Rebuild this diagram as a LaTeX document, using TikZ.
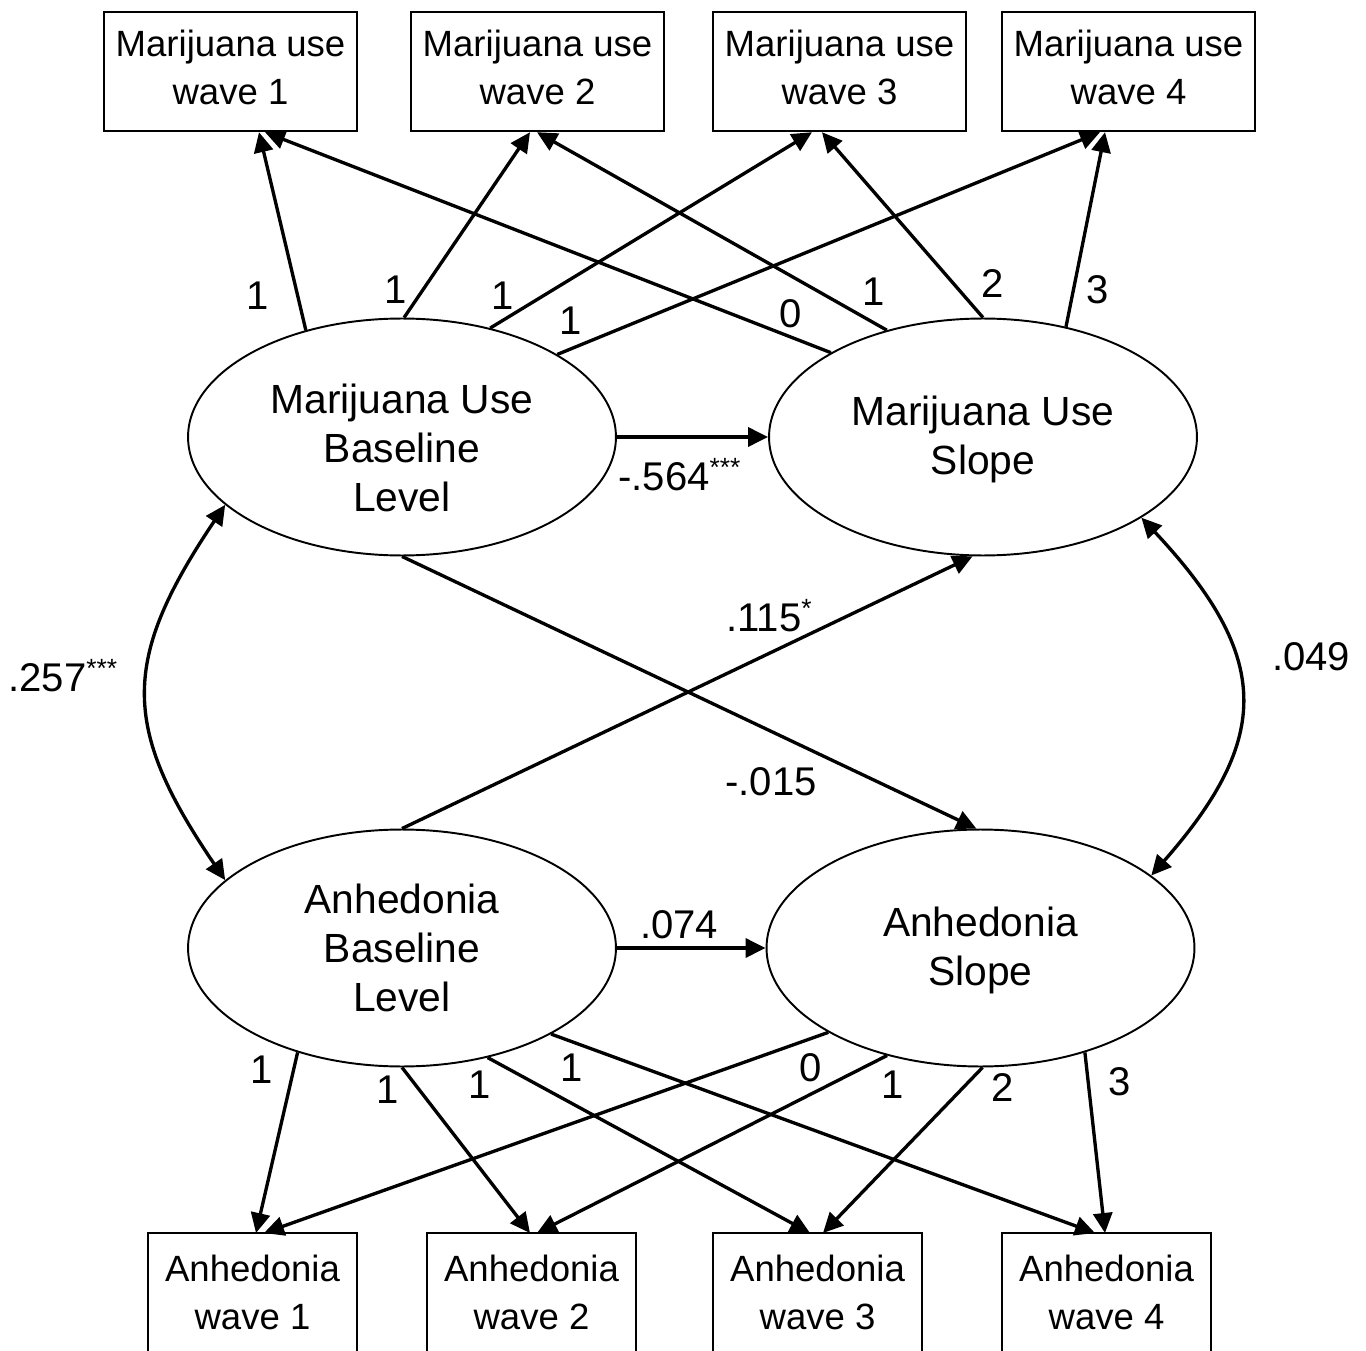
\documentclass[tikz,border=0pt]{standalone}
\usepackage{fontspec}
\setmainfont{Liberation Sans}
\usetikzlibrary{shapes.geometric,arrows.meta,calc}
\begin{document}
\begin{tikzpicture}[x=0.02cm,y=-0.02cm,
  obs/.style={draw, line width=1.4pt, minimum width=5.06cm, minimum height=2.38cm, align=center, inner sep=0pt, font=\fontsize{20.8}{27.3}\selectfont},
  obsb/.style={minimum width=4.18cm, minimum height=2.38cm, align=center, inner sep=0pt, outer sep=0pt, font=\fontsize{20.8}{27.3}\selectfont},
  boxline/.style={line width=1.4pt},
  lat/.style={ellipse, draw, line width=1.1pt, minimum width=8.56cm, minimum height=4.74cm, inner sep=0pt, align=center, font=\fontsize{23.2}{28}\selectfont},
  arr/.style={-{Triangle[length=0.4cm,width=0.38cm]}, line width=1.9pt},
  cov/.style={{Triangle[length=0.4cm,width=0.38cm]}-{Triangle[length=0.4cm,width=0.38cm]}, line width=1.9pt},
  lab/.style={font=\fontsize{22.8}{27.5}\selectfont, inner sep=0pt}]
\newcommand{\sigstar}[1]{\textsuperscript{\fontsize{15}{15}\selectfont #1}}
\useasboundingbox (0,0) rectangle (1366,1351);
\clip (0,0) rectangle (1366,1351);
% observed top
\node[obs] (w1) at (230.5,71.5) {Marijuana use\\wave 1\rule[-5pt]{0pt}{5pt}};
\node[obs] (w2) at (537.5,71.5) {Marijuana use\\wave 2\rule[-5pt]{0pt}{5pt}};
\node[obs] (w3) at (839.5,71.5) {Marijuana use\\wave 3\rule[-5pt]{0pt}{5pt}};
\node[obs] (w4) at (1128.5,71.5) {Marijuana use\\wave 4\rule[-5pt]{0pt}{5pt}};
% observed bottom (cut off by the lower edge)
\node[obsb] (a1) at (252.5,1292.5) {Anhedonia\\wave 1};
\node[obsb] (a2) at (531.5,1292.5) {Anhedonia\\wave 2};
\node[obsb] (a3) at (817.5,1292.5) {Anhedonia\\wave 3};
\node[obsb] (a4) at (1106.5,1292.5) {Anhedonia\\wave 4};
\foreach \b in {a1,a2,a3,a4}{
  \draw[boxline] ($(\b.south west)+(0,30)$) -- (\b.north west) -- (\b.north east) -- ($(\b.south east)+(0,30)$);
}
% latent
\node[lat] (mb) at (402,437) {\rule{0pt}{29pt}Marijuana Use\\Baseline\\Level};
\node[lat] (ms) at (983,437) {\rule{0pt}{20pt}Marijuana Use\\Slope};
\node[lat] (ab) at (402,948) {Anhedonia\\Baseline\\Level};
\node[lat] (as) at (980.5,948) {\rule{0pt}{20pt}Anhedonia\\Slope};
% loadings top
\draw[arr] (mb.132.8) -- ($(w1.south)+(28.5,0)$);
\draw[arr] (mb.89.5) -- ($(w2.south)+(-7.5,0)$);
\draw[arr] (mb.51.3) -- ($(w3.south)+(-27.5,0)$);
\draw[arr] (mb.28.9) -- ($(w4.south)+(-28.5,0)$);
\draw[arr] (ms.151.4) -- ($(w1.south)+(34.5,0)$);
\draw[arr] (ms.132.7) -- ($(w2.south)+(-0.5,0)$);
\draw[arr] (ms.90.5) -- ($(w3.south)+(-17.5,0)$);
\draw[arr] (ms.53.3) -- ($(w4.south)+(-23.5,0)$);
\node[lab] (t1) at (258,296) {1};
\node[lab] (t2) at (396,290) {1};
\node[lab] (t3) at (503,296) {1};
\node[lab] (t4) at (571,321) {1};
\node[lab] (t5) at (791,314) {0};
\node[lab] (t6) at (874,292) {1};
\node[lab] (t7) at (993,284) {2};
\node[lab] (t8) at (1098,290) {3};
% loadings bottom
\draw[arr] (ab.225.6) -- ($(a1.north)+(3.5,0)$);
\draw[arr] (ab.270) -- ($(a2.north)+(-1.5,0)$);
\draw[arr] (ab.308) -- ($(a3.north)+(-7.5,0)$);
\draw[arr] (ab.330) -- ($(a4.north)+(-11.5,0)$);
\draw[arr] (as.209.5) -- ($(a1.north)+(11.5,0)$);
\draw[arr] (as.229.8) -- ($(a2.north)+(5.5,0)$);
\draw[arr] (as.271) -- ($(a3.north)+(5.5,0)$);
\draw[arr] (as.315) -- ($(a4.north)+(-1.5,0)$);
\node[lab] (b1) at (262,1070) {1};
\node[lab] (b2) at (388,1090) {1};
\node[lab] (b3) at (480,1085) {1};
\node[lab] (b4) at (572,1068) {1};
\node[lab] (b5) at (811,1068) {0};
\node[lab] (b6) at (893,1085) {1};
\node[lab] (b7) at (1003,1088) {2};
\node[lab] (b8) at (1120,1082) {3};
% structural paths
\draw[arr] (mb.east) -- (ms.west);
\draw[arr] (ab.east) -- (as.west);
\draw[arr] (mb.270) -- (as.92);
\draw[arr] (ab.90) -- (ms.265);
\node[lab, anchor=base west] (r1) at (618,490) {-.564\sigstar{***}};
\node[lab] (r2) at (679,925) {.074};
\node[lab, anchor=base west] (r3) at (726,631) {.115\sigstar{*}};
\node[lab] (r4) at (771,782) {-.015};
% covariances
\draw[cov] (mb.201.6) .. controls (121,660) and (121,727) .. (ab.159);
\draw[cov] (ms.333) .. controls (1272,657) and (1272,738) .. (as.23.6);
\node[lab, anchor=base west] (c1) at (8,691) {.257\sigstar{***}};
\node[lab] (c2) at (1311,657) {.049};
\end{tikzpicture}
\end{document}
